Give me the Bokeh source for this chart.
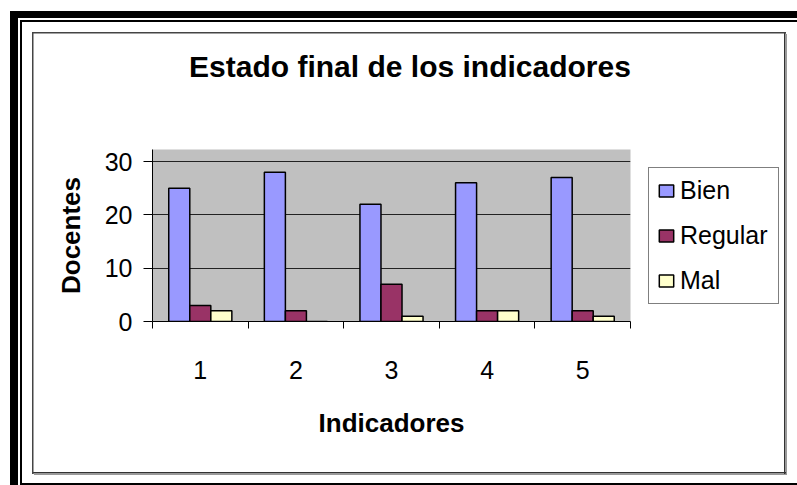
from bokeh.plotting import figure
from bokeh.models import ColumnDataSource, FixedTicker, Legend, LegendItem, Div
from bokeh.layouts import column
from bokeh.transform import dodge
from bokeh.embed import file_html
from bokeh.resources import INLINE

# ---- data ----
categories = ["1", "2", "3", "4", "5"]
bien = [25, 28, 22, 26, 27]
regular = [3, 2, 7, 2, 2]
mal = [2, 0, 1, 2, 1]
series_names = ["Bien", "Regular", "Mal"]
series_colors = ["#9999FF", "#993366", "#FFFFCC"]
y_ticks = [0, 10, 20, 30]
title_text = "Estado final de los indicadores"
x_title = "Indicadores"
y_title = "Docentes"

FONT = "Liberation Sans"

# layout geometry (pixels)
PW, PH = 797, 485
TH = 100                                      # height of the title strip
FL, FT, FW, FH = 152, 149, 478, 172          # frame left/top/width/height (page)
X0, X1 = 0.5, len(categories) + 0.5
Y0, Y1 = 0, 32.25

xs = list(range(1, len(categories) + 1))
src = ColumnDataSource(dict(x=xs, bien=bien, regular=regular, mal=mal))

title_div = Div(
    text=(f'<div style="display:block;width:774px;margin-left:23px;padding-top:49px;'
          f'text-align:center;font-family:\'{FONT}\';font-size:30px;font-weight:bold;'
          f'line-height:36px;color:black;white-space:nowrap">{title_text}</div>'),
    width=PW, height=TH, margin=0)

p = figure(frame_width=FW, frame_height=FH,
           x_range=(X0, X1), y_range=(Y0, Y1),
           output_backend="svg", toolbar_location=None,
           min_border_left=FL, min_border_right=PW - FL - FW,
           min_border_top=FT - TH, min_border_bottom=PH - FT - FH, margin=0)
p.background_fill_color = "#C0C0C0"
p.border_fill_color = None
p.outline_line_color = None

# grid
p.xgrid.visible = False
p.ygrid.ticker = FixedTicker(ticks=y_ticks)
p.ygrid.grid_line_color = "#222222"
p.ygrid.grid_line_width = 1

# y axis
ya = p.yaxis[0]
ya.ticker = FixedTicker(ticks=y_ticks)
ya.major_tick_in = 0
ya.major_tick_out = 9
ya.minor_tick_in = 0
ya.minor_tick_out = 0
ya.axis_line_color = "black"
ya.major_tick_line_color = "black"
ya.major_label_text_font = FONT
ya.major_label_text_font_size = "25px"
ya.major_label_text_color = "black"
ya.major_label_standoff = 11
ya.axis_label = y_title
ya.axis_label_text_font = FONT
ya.axis_label_text_font_size = "26px"
ya.axis_label_text_font_style = "bold"
ya.axis_label_text_color = "black"
ya.axis_label_standoff = 16

# x axis
xa = p.xaxis[0]
xa.ticker = FixedTicker(ticks=xs, minor_ticks=[x - 0.5 for x in xs] + [xs[-1] + 0.5])
xa.major_label_overrides = {x: c for x, c in zip(xs, categories)}
xa.major_tick_in = 0
xa.major_tick_out = 0
xa.minor_tick_in = 0
xa.minor_tick_out = 7
xa.minor_tick_line_color = "black"
xa.axis_line_color = "black"
xa.major_label_text_font = FONT
xa.major_label_text_font_size = "25px"
xa.major_label_text_color = "black"
xa.major_label_standoff = 32
xa.axis_label = x_title
xa.axis_label_text_font = FONT
xa.axis_label_text_font_size = "26px"
xa.axis_label_text_font_style = "bold"
xa.axis_label_text_color = "black"
xa.axis_label_standoff = 26

# bars
bw = 0.22
renderers = []
for field, off, col in zip(["bien", "regular", "mal"], [-bw, 0, bw], series_colors):
    r = p.vbar(x=dodge("x", off), top=field, width=bw,
               source=src, fill_color=col, line_color="black", line_width=1.5)
    renderers.append(r)

legend = Legend(items=[LegendItem(label=n, renderers=[r]) for n, r in zip(series_names, renderers)],
                location="top_left", margin=18, padding=8, spacing=16,
                glyph_width=18, glyph_height=15, label_standoff=5,
                label_height=26, label_width=90,
                label_text_font=FONT, label_text_font_size="25px",
                label_text_color="black",
                border_line_color="black", border_line_width=1,
                background_fill_color="white", background_fill_alpha=1)
p.add_layout(legend, "right")

# decorative page borders drawn as CSS background layers of the whole page element
def rect(x, y, w, h, c):
    return f"linear-gradient({c},{c}) {x}px {y}px / {w}px {h}px no-repeat"

layers = [
    rect(10, 11, 787, 7, "#000"),        # thick top
    rect(10, 11, 8, 474, "#000"),        # thick left
    rect(20, 20, 777, 2, "#000"),        # thin top
    rect(20, 20, 2, 465, "#000"),        # thin left
    rect(20, 483, 777, 2, "#000"),       # thin bottom
    rect(32, 32, 754, 1.5, "#444"),      # chart frame top
    rect(32, 32, 1.5, 442, "#444"),      # chart frame left
    rect(784.3, 32, 1.5, 442, "#333"),   # chart frame right
    rect(32, 472.3, 754, 1.5, "#333"),   # chart frame bottom
    rect(785.8, 34, 1.2, 441, "#999"),   # shadow right
    rect(34, 473.8, 753, 1.2, "#999"),   # shadow bottom
]
page = column(title_div, p, spacing=0,
              styles={"background": ", ".join(layers) + ", white"})

open("out.html", "w").write(file_html(page, INLINE))
